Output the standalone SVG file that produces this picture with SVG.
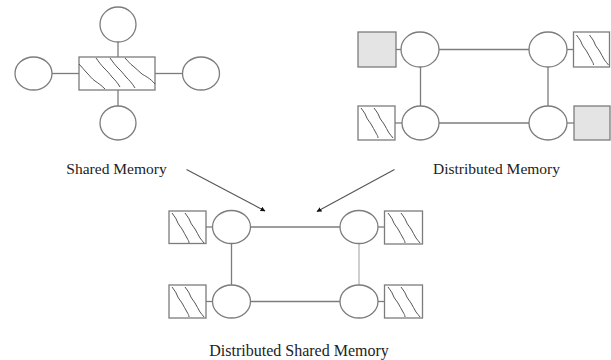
<svg xmlns="http://www.w3.org/2000/svg" xmlns:xlink="http://www.w3.org/1999/xlink" width="611" height="360" viewBox="0 0 611 360">
  <style>
    .node { fill: #ffffff; stroke: #7c7c7c; stroke-width: 1.3; }
    .mem { fill: #ffffff; stroke: #7c7c7c; stroke-width: 1.3; }
    .mem-grey { fill: #e4e4e4; stroke: #7c7c7c; stroke-width: 1.3; }
    .hatch { fill: none; stroke: #555555; stroke-width: 1; }
    .link { fill: none; stroke: #7c7c7c; stroke-width: 1.3; }
    .link-light { fill: none; stroke: #b4b4b4; stroke-width: 1.3; }
    .arrow { fill: none; stroke: #555555; stroke-width: 1.1; marker-end: url(#tip); }
    .label { font-family: "Liberation Serif", "Times New Roman", serif; font-size: 15.5px; fill: #222222; text-anchor: middle; }
  </style>
  <defs>
    <marker id="tip" viewBox="0 0 10 10" refX="9" refY="5" markerWidth="5" markerHeight="5" orient="auto" markerUnits="userSpaceOnUse">
      <path d="M0,0 L10,5 L0,10 z" fill="#111111"/>
    </marker>
    <!-- two wavy hatch strokes for a 37x33 memory block -->
    <g id="hatch2">
      <path class="hatch" d="M3,2 c2,3 4,5 5,8 c1,3 3,5 5,8 c2,3 3,6 5,9 c1,2 2,3 2,5"/>
      <path class="hatch" d="M16,2 c2,3 4,5 5,8 c1,3 3,5 5,8 c2,3 3,6 5,9 c1,2 3,3 4,5"/>
    </g>
  </defs>

  <!-- connectors -->
  <g id="connectors">
    <!-- shared memory bus -->
    <line class="link" x1="118" y1="42" x2="118" y2="57"/>
    <line class="link" x1="52" y1="73.5" x2="79" y2="73.5"/>
    <line class="link" x1="155" y1="73.5" x2="182" y2="73.5"/>
    <line class="link" x1="118" y1="90" x2="118" y2="106"/>
    <!-- distributed memory ring -->
    <line class="link" x1="439" y1="49.5" x2="529" y2="49.5"/>
    <line class="link" x1="439" y1="123" x2="529" y2="123"/>
    <line class="link" x1="420.5" y1="67" x2="420.5" y2="106"/>
    <line class="link" x1="548" y1="67" x2="548" y2="106"/>
    <line class="link" x1="396" y1="49.5" x2="401" y2="49.5"/>
    <line class="link" x1="395" y1="123" x2="402" y2="123"/>
    <line class="link" x1="567" y1="49.5" x2="573.5" y2="49.5"/>
    <line class="link" x1="567" y1="123" x2="574" y2="123"/>
    <!-- distributed shared memory ring -->
    <line class="link" x1="250.5" y1="227" x2="340" y2="227"/>
    <line class="link" x1="250.5" y1="301.5" x2="340" y2="301.5"/>
    <line class="link" x1="231.5" y1="243.5" x2="231.5" y2="285"/>
    <line class="link-light" x1="359" y1="243.5" x2="359" y2="285"/>
    <line class="link" x1="206" y1="227" x2="212.5" y2="227"/>
    <line class="link" x1="206" y1="301.5" x2="212.5" y2="301.5"/>
    <line class="link" x1="378" y1="227" x2="384.5" y2="227"/>
    <line class="link" x1="378" y1="301.5" x2="384.5" y2="301.5"/>
    <!-- arrows into the combined model -->
    <line class="arrow" x1="186.5" y1="169.5" x2="265" y2="211"/>
    <line class="arrow" x1="394.5" y1="169.5" x2="317" y2="211.5"/>
  </g>

  <!-- shared memory -->
  <g id="sm-memory">
    <rect class="mem" x="79" y="57" width="76" height="33"/>
    <path class="hatch" d="M79,64 c3,3 5,6 8,9 c3,3 5,6 8,8 c3,2 6,4 10,8"/>
    <path class="hatch" d="M96,58 c3,4 5,7 8,10 c3,3 5,5 8,9 c3,3 5,5 8,10"/>
    <path class="hatch" d="M110,58 c3,4 5,7 8,10 c3,3 5,5 8,9 c3,3 6,6 9,11"/>
    <path class="hatch" d="M125,58 c3,3 5,6 8,8 c3,3 6,5 9,8 c3,2 8,4 13,10"/>
  </g>
  <g id="sm-p-top"><ellipse class="node" cx="118" cy="24.5" rx="18" ry="17.5"/></g>
  <g id="sm-p-left"><ellipse class="node" cx="33.5" cy="73.5" rx="18.5" ry="16.5"/></g>
  <g id="sm-p-right"><ellipse class="node" cx="201" cy="73.5" rx="18.5" ry="16.5"/></g>
  <g id="sm-p-bottom"><ellipse class="node" cx="118" cy="123" rx="18" ry="17"/></g>

  <!-- distributed memory -->
  <g id="dm-p1"><ellipse class="node" cx="420" cy="49.5" rx="19" ry="17.5"/></g>
  <g id="dm-p2"><ellipse class="node" cx="548" cy="49.5" rx="19" ry="17.5"/></g>
  <g id="dm-p3"><ellipse class="node" cx="420.5" cy="123" rx="18.5" ry="17"/></g>
  <g id="dm-p4"><ellipse class="node" cx="548" cy="123" rx="19" ry="17"/></g>
  <g id="dm-m1"><rect class="mem-grey" x="358" y="32" width="38" height="35"/></g>
  <g id="dm-m2">
    <rect class="mem" x="573.5" y="32" width="36" height="35"/>
    <use xlink:href="#hatch2" href="#hatch2" transform="translate(573.5,33)"/>
  </g>
  <g id="dm-m3">
    <rect class="mem" x="358" y="106" width="37" height="34"/>
    <use xlink:href="#hatch2" href="#hatch2" transform="translate(358,106)"/>
  </g>
  <g id="dm-m4"><rect class="mem-grey" x="574" y="106" width="36" height="34"/></g>

  <!-- distributed shared memory -->
  <g id="dsm-p1"><ellipse class="node" cx="231.5" cy="227" rx="19" ry="16.5"/></g>
  <g id="dsm-p2"><ellipse class="node" cx="359" cy="227" rx="19" ry="16.5"/></g>
  <g id="dsm-p3"><ellipse class="node" cx="231.5" cy="301.5" rx="19" ry="16.5"/></g>
  <g id="dsm-p4"><ellipse class="node" cx="359" cy="301.5" rx="19" ry="16.5"/></g>
  <g id="dsm-m1">
    <rect class="mem" x="169" y="211" width="37" height="32.5"/>
    <use xlink:href="#hatch2" href="#hatch2" transform="translate(169,211)"/>
  </g>
  <g id="dsm-m2">
    <rect class="mem" x="384.5" y="211" width="38" height="33"/>
    <use xlink:href="#hatch2" href="#hatch2" transform="translate(385,211)"/>
  </g>
  <g id="dsm-m3">
    <rect class="mem" x="169" y="285" width="37" height="33"/>
    <use xlink:href="#hatch2" href="#hatch2" transform="translate(169,285)"/>
  </g>
  <g id="dsm-m4">
    <rect class="mem" x="384.5" y="285" width="38" height="33"/>
    <use xlink:href="#hatch2" href="#hatch2" transform="translate(385,285)"/>
  </g>

  <!-- captions -->
  <text class="label" x="116.5" y="174">Shared Memory</text>
  <text class="label" x="496.5" y="174">Distributed Memory</text>
  <text class="label" x="299" y="356" style="font-size:16px">Distributed Shared Memory</text>
</svg>
